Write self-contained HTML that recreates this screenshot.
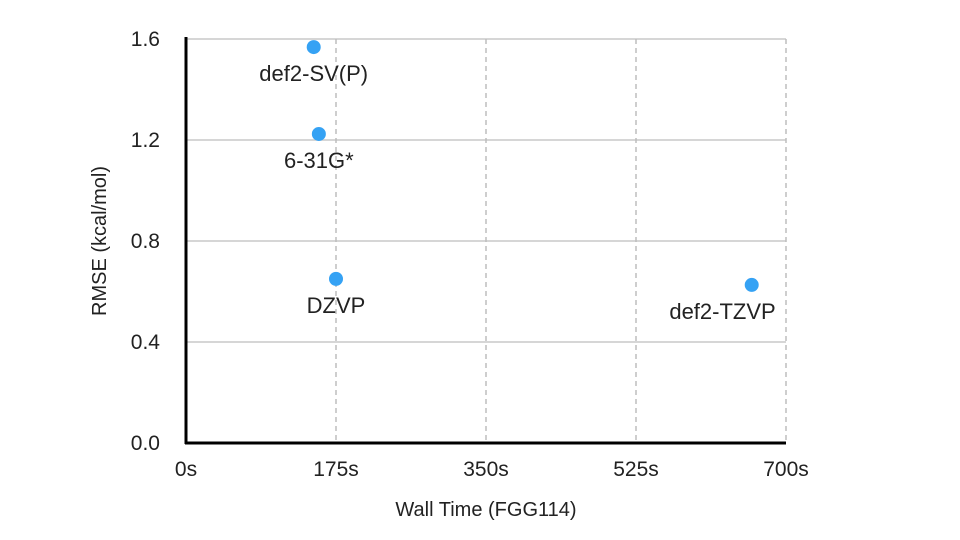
<!DOCTYPE html>
<html><head><meta charset="utf-8">
<style>
html,body{margin:0;padding:0;background:#fff;}
svg{display:block;font-family:"Liberation Sans",Arial,sans-serif;}
</style></head>
<body>
<svg id="chart" width="960" height="540" viewBox="0 0 960 540">
  <g id="grid"></g>
  <g id="axes"></g>
  <g id="points"></g>
  <text x="486" y="516" font-size="20" text-anchor="middle" fill="#222">Wall Time (FGG114)</text>
  <text transform="translate(106,241) rotate(-90)" font-size="20" text-anchor="middle" fill="#222">RMSE (kcal/mol)</text>
</svg>
<script>
const names = ["def2-SV(P)", "6-31G*", "DZVP", "def2-TZVP"];
const wallTimes = [149, 155, 175, 660];
const rmseValues = [1.568, 1.224, 0.65, 0.626];
const labelAnchors = ["middle", "middle", "middle", "end"];
const xTicks = [0, 175, 350, 525, 700];
const xTickLabels = ["0s", "175s", "350s", "525s", "700s"];
const yTicks = [0, 0.4, 0.8, 1.2, 1.6];
const yTickLabels = ["0.0", "0.4", "0.8", "1.2", "1.6"];

const X0 = 186, X1 = 786, Y0 = 443, Y1 = 39;
const xScale = v => X0 + (v - 0) / 700 * (X1 - X0);
const yScale = v => Y0 - (v - 0) / 1.6 * (Y0 - Y1);
const NS = "http://www.w3.org/2000/svg";
function mk(tag, attrs, parent, txt) {
  const e = document.createElementNS(NS, tag);
  for (const k in attrs) e.setAttribute(k, attrs[k]);
  if (txt !== undefined) e.textContent = txt;
  parent.appendChild(e);
  return e;
}
const grid = document.getElementById("grid");
const axes = document.getElementById("axes");
const pts = document.getElementById("points");

yTicks.forEach((t, i) => {
  const y = yScale(t);
  if (t > 0) {
    const l = mk("line", {x1: X0, x2: X1, y1: y, y2: y, stroke: "#c8c8c8", "stroke-width": 1.5}, grid);
    
    
  }
  const tx = mk("text", {x: 160, y: y + 7, "font-size": 21, "text-anchor": "end", fill: "#222"}, axes, yTickLabels[i]);
  
  
});
xTicks.forEach((t, i) => {
  const x = xScale(t);
  if (t > 0) {
    const l = mk("line", {x1: x, x2: x, y1: Y1, y2: Y0, stroke: "#bdbdbd", "stroke-width": 1.5, "stroke-dasharray": "5,4"}, grid);
    
    
  }
  const tx = mk("text", {x: x, y: 476, "font-size": 21, "text-anchor": "middle", fill: "#222"}, axes, xTickLabels[i]);
  
  
});
const ya = mk("line", {x1: X0, x2: X0, y1: Y1 - 2, y2: Y0 + 1, stroke: "#000", "stroke-width": 3}, axes);


const xa = mk("line", {x1: X0 - 1, x2: X1, y1: Y0, y2: Y0, stroke: "#000", "stroke-width": 3}, axes);



names.forEach((n, i) => {
  const x = xScale(wallTimes[i]), y = yScale(rmseValues[i]);
  const c = mk("circle", {cx: x, cy: y, r: 7, fill: "#35a2f4"}, pts);
  
  
  const lx = labelAnchors[i] === "end" ? x + 24 : x;
  const t = mk("text", {x: lx, y: y + 34, "font-size": 22, "text-anchor": labelAnchors[i], fill: "#222"}, pts, n);
  
  
});
</script>
</body></html>
